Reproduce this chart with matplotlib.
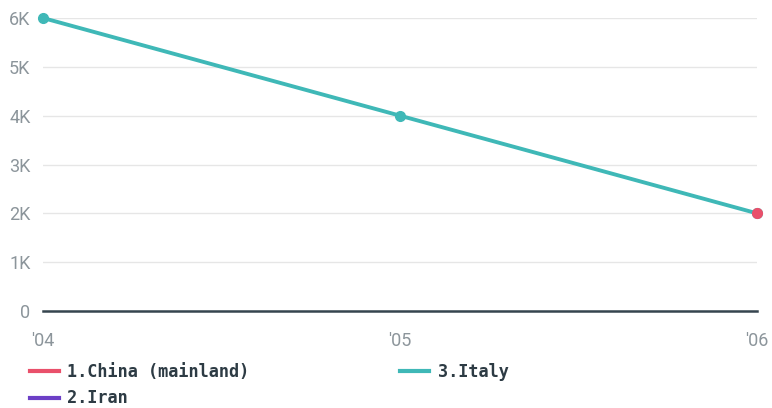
import matplotlib
matplotlib.use("Agg")
import matplotlib.pyplot as plt
import numpy as np

years = ["'04", "'05", "'06"]
series_names = ["1.China (mainland)", "2.Iran", "3.Italy"]
china = [np.nan, np.nan, 2000]
iran = [np.nan, np.nan, np.nan]
italy = [6000, 4000, 2000]
yticks = [0, 1000, 2000, 3000, 4000, 5000, 6000]
ytick_labels = ["0", "1K", "2K", "3K", "4K", "5K", "6K"]

colors = {"1.China (mainland)": "#e9506b", "2.Iran": "#6c3fc6", "3.Italy": "#3fb8b7"}

fig = plt.figure(figsize=(7.72, 4.08), dpi=100)
ax = fig.add_axes([43/772, 1-311/408, (757-43)/772, (311-18)/408])

x = np.arange(len(years))
ax.plot(x, italy, color=colors["3.Italy"], lw=2.8, marker="o", ms=7,
        solid_capstyle="round", clip_on=False, zorder=3, label="3.Italy")
ax.plot(x, china, color=colors["1.China (mainland)"], lw=2.8, marker="o", ms=7,
        clip_on=False, zorder=4, label="1.China (mainland)")
ax.plot(x, iran, color=colors["2.Iran"], lw=2.8, marker="o", ms=7,
        clip_on=False, zorder=4, label="2.Iran")

ax.set_xlim(0, 2)
ax.set_ylim(0, 6000)
ax.set_yticks(yticks)
ax.set_yticklabels(ytick_labels)
ax.set_xticks(x)
ax.set_xticklabels(years)
ax.grid(axis="y", color="#e6e6e6", lw=1)
ax.set_axisbelow(True)
ax.axhline(0, color="#36454f", lw=1.8, zorder=2, clip_on=False)
for s in ax.spines.values():
    s.set_visible(False)
ax.tick_params(axis="both", length=0, labelsize=13, labelcolor="#8c959b")
ax.tick_params(axis="y", pad=9)
ax.tick_params(axis="x", pad=15)
for lab in ax.get_xticklabels() + ax.get_yticklabels():
    lab.set_family("Roboto")

from matplotlib.lines import Line2D
handles = [Line2D([], [], color=colors[n], lw=3) for n in series_names]
leg = fig.legend(handles, series_names, loc="upper left",
                 bbox_to_anchor=(30/772, 1-363/408), ncol=2, frameon=False,
                 borderpad=0, borderaxespad=0, handlelength=1.7, handletextpad=0.5,
                 columnspacing=8.9, labelspacing=0.5,
                 prop={"family": "DejaVu Sans Mono", "weight": "bold", "size": 12.2})
for t in leg.get_texts():
    t.set_color("#2d3b44")

fig.savefig("out.png", dpi=100)
